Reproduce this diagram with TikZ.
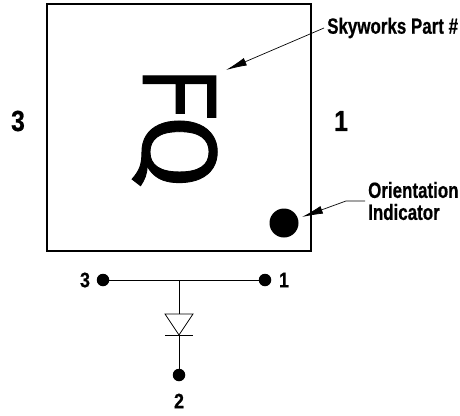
\documentclass[tikz,border=0pt]{standalone}
\usepackage{fontspec}
\usetikzlibrary{arrows.meta}
\newfontfamily\lblfont[FakeStretch=0.77,FakeBold=0.6]{Liberation Sans Bold}
\newfontfamily\numfont[FakeStretch=0.85,FakeBold=0.6]{Liberation Sans Bold}
\newfontfamily\markfont[FakeStretch=0.85,FakeBold=1]{TeX Gyre Heros}
\newfontfamily\markqfont[FakeStretch=1.0,FakeBold=0.8]{Fira Sans}
\tikzset{
  x=1pt,y=-1pt,
  lbl/.style={inner sep=0pt,font=\lblfont\fontsize{22}{22}\selectfont},
  pinlbl/.style={inner sep=0pt,font=\numfont\fontsize{21}{21}\selectfont},
  biglbl/.style={inner sep=0pt,font=\numfont\fontsize{29}{29}\selectfont},
  pin/.style={circle,fill=black,inner sep=0pt,minimum size=12.5pt},
  wire/.style={line width=0.8pt},
  lead/.style={line width=0.7pt,-{Latex[length=21pt,width=8pt]}},
}
\begin{document}
\begin{tikzpicture}
\useasboundingbox (0,0) rectangle (460,415);
\node[draw,line width=1.3pt,minimum width=264pt,minimum height=247pt,inner sep=0pt] (pkg) at (179,127.5) {};
\node[inner sep=0pt,rotate=-90,anchor=base west] (mark) at (143,68) {\markfont\fontsize{100}{100}\selectfont F\kern-5pt\markqfont\fontsize{106}{106}\selectfont Q};
\node[circle,fill=black,inner sep=0pt,minimum size=29pt] (dot) at (284,223) {};
\node[biglbl] (l3) at (18,121) {3};
\node[biglbl] (l1) at (341,121) {1};
\node[lbl,anchor=west] (part) at (327,28) {Skyworks Part \#};
\node[lbl,anchor=west,align=left] (ori) at (368,201) {Orientation\\Indicator};
\coordinate (parttip) at (226,70);
\coordinate (oribend) at (346,201);
\draw[lead] (part.west) ++(-3,0) -- (parttip);
\draw[lead] (ori.west |- oribend) ++(-3,0) -- (oribend) -- (302,217);
\node[pin] (p3) at (103,280) {};
\node[pin] (p1) at (265,280) {};
\node[pin] (p2) at (179,375) {};
\node[pinlbl] (t3) at (85,280) {3};
\node[pinlbl] (t1) at (284,280) {1};
\node[pinlbl] (t2) at (179,401) {2};
\coordinate (tee) at (179,280);
\coordinate (dtop) at (179,314);
\coordinate (dbot) at (179,335);
\draw[wire] (p3) -- (p1);
\draw[wire] (tee) -- (dtop);
\draw[wire] (dbot) -- (p2);
\draw[wire] (165,314) -- (193,314) -- (dbot) -- cycle;
\draw[wire] (165,335) -- (193,335);
\end{tikzpicture}
\end{document}
